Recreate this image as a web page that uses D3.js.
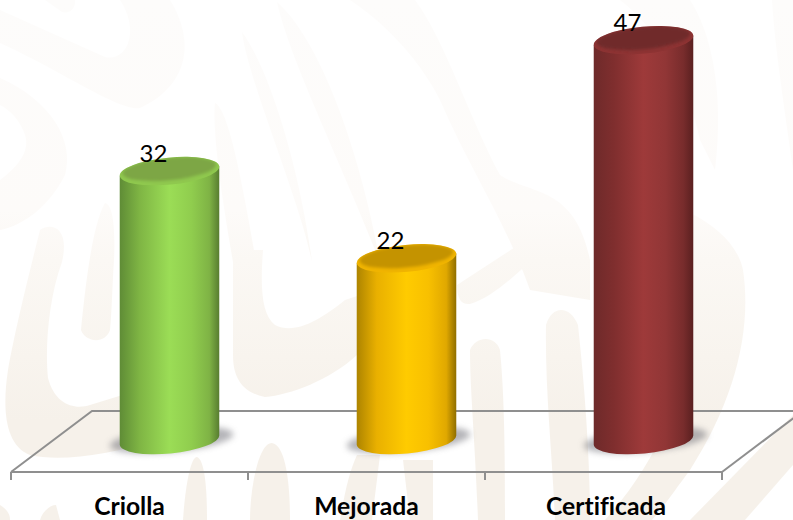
<!DOCTYPE html>
<html><head><meta charset="utf-8">
<script src="https://cdnjs.cloudflare.com/ajax/libs/d3/7.8.5/d3.min.js"></script>
<style>html,body{margin:0;padding:0;background:#fff;overflow:hidden}svg{display:block}</style>
</head><body><svg id="c" width="793" height="520"></svg>
<script>
const categories = ["Criolla", "Mejorada", "Certificada"];
const values = [32, 22, 47];
const bodyStops = [
  ["#5f8c36", "#7fb544", "#9bdd56", "#90cd4e", "#7fb345", "#587d30"],
  ["#ad8400", "#e9b000", "#ffcb00", "#f8c000", "#e0a800", "#8f6e00"],
  ["#6e2a2a", "#7f2e2e", "#9e3a3a", "#913636", "#782c2c", "#5a2020"]
];
const gradientOffsets = [0, 0.2, 0.5, 0.72, 0.9, 1];
const capColors = ["#7da644", "#c49300", "#702929"];
const rimColors = ["#8fc84e", "#f0b400", "#8d3333"];

const W = 793, H = 520;
const svg = d3.select("#c");
const defs = svg.append("defs");

// Layout constants
const frontY = 472, backY = 411, depthX = 81, floorLeft = 11, floorRight = 722;
const cylOffset = 40, rx = 50, ry = 13.5, tilt = 5.5, baseY = 440;
const ax = rx * Math.cos(tilt * Math.PI / 180), ay = rx * Math.sin(tilt * Math.PI / 180);
const labelShift = [0, 0, 2.5];

const x = d3.scaleBand().domain(categories).range([floorLeft, floorRight]);
const y = d3.scaleLinear().domain([0, 50]).range([450.3, 14]);

// Watermark
const wg = defs.append("linearGradient").attr("id", "wm").attr("gradientUnits", "userSpaceOnUse")
  .attr("x1", 0).attr("y1", 0).attr("x2", 0).attr("y2", 420);
[[0, "#fdfcfb"], [0.5, "#fdfbf9"], [0.62, "#fbf8f4"], [0.85, "#f8f4ee"], [1, "#f6f1ea"]].forEach(s =>
  wg.append("stop").attr("offset", s[0]).attr("stop-color", s[1]));
const wmFilled = [
  "M0,10 L105,57 C128,62 140,30 120,0 L170,0 C195,40 190,85 140,108 C120,112 60,70 0,43 Z",
  "M0,78 C50,100 75,140 65,175 C50,205 25,225 0,230 L0,180 C20,165 30,150 25,135 C20,120 10,110 0,105 Z",
  "M60,0 L75,0 C76,8 70,14 62,12 L45,0 Z",
  "M215,103 C228,110 240,170 256,262 L233,262 C222,200 212,130 215,103 Z",
  "M242,32 C270,70 300,170 312,262 C300,200 248,80 242,32 Z",
  "M277,2 C320,40 360,150 380,262 C340,160 290,60 277,2 Z",
  "M350,0 L415,0 C445,40 470,120 500,175 C530,195 575,185 590,260 L590,300 L530,290 C505,220 470,170 440,100 C425,70 395,30 350,0 Z",
  "M510,0 L690,0 C710,30 725,90 715,170 L700,140 C690,90 660,30 620,0 Z",
  "M105,203 C115,205 115,240 114,260 C112,290 112,310 110,330 C105,345 85,342 81,330 C85,290 92,225 105,203 Z",
  "M40,230 C52,222 70,228 62,262 C48,300 45,350 48,378 C55,405 75,410 90,405 L155,385 L155,440 C110,455 60,462 30,455 C5,445 2,410 8,370 C15,330 30,270 40,230 Z",
  "M233,250 L263,250 C260,290 262,315 275,325 C295,335 320,320 345,300 L357,296 L357,355 C330,380 290,395 265,397 C240,392 233,375 233,355 Z",
  "M183,520 C185,490 190,457 197,457 C205,460 207,490 207,520 Z",
  "M250,520 C250,490 258,443 272,443 C285,445 290,480 290,520 Z",
  "M40,520 C42,512 50,505 56,505 L60,520 Z",
  "M0,505 C8,510 10,515 10,520 L0,520 Z",
  "M340,520 C345,490 350,470 357,455 L380,455 L372,520 Z",
  "M403,460 L433,460 L433,520 L410,520 Z",
  "M470,350 C476,336 495,335 500,350 C505,400 505,470 505,520 L478,520 C475,440 470,390 470,350 Z",
  "M546,325 C552,305 570,305 578,325 C585,390 590,460 590,520 L555,520 C552,450 545,390 546,325 Z",
  "M690,213 C715,225 738,245 743,270 C752,330 735,400 690,470 C675,490 665,505 652,520 L605,520 C650,470 690,400 693,300 Z",
  "M793,415 L793,465 L745,520 L690,520 Z",
  "M457,285 L526,240 L560,225 L530,262 C510,280 490,298 470,304 C462,305 457,300 457,285 Z",
  "M772,0 L793,0 L793,170 C785,110 775,50 772,0 Z"
];
svg.append("g").selectAll("path").data(wmFilled).join("path")
  .attr("d", d => d).attr("fill", "url(#wm)");

// Filters
defs.append("filter").attr("id", "blur").attr("x", "-30%").attr("y", "-60%").attr("width", "160%").attr("height", "220%")
  .append("feGaussianBlur").attr("stdDeviation", 3);
defs.append("filter").attr("id", "soft").attr("x", "-20%").attr("y", "-50%").attr("width", "140%").attr("height", "200%")
  .append("feGaussianBlur").attr("stdDeviation", 1.8);

// Floor
const lineColor = "#8f8f8f";
const floor = svg.append("g").attr("fill", "none").attr("stroke", lineColor).attr("stroke-width", 2);
floor.append("path").attr("d", d3.line()([[floorLeft, frontY], [floorLeft + depthX, backY], [W + 2, backY]]));
floor.append("path").attr("d", d3.line()([[floorRight, frontY], [floorRight + 81, frontY - 61]]));

// Category axis, built on the band scale
const axisG = svg.append("g").attr("transform", `translate(0,${frontY})`)
  .call(d3.axisBottom(x).tickSize(0).tickPadding(25));
axisG.select(".domain").attr("stroke", lineColor).attr("stroke-width", 2)
  .attr("d", `M${floorLeft},0H${floorRight}`);
axisG.selectAll("text")
  .attr("font-family", "Lato, sans-serif").attr("font-weight", 700).attr("font-size", 24.7)
  .style("font-variant-ligatures", "none")
  .attr("dx", (c, i) => labelShift[i])
  .attr("fill", "#000");
const boundaries = categories.map(c => x(c)).concat(floorRight);
axisG.selectAll("line.b").data(boundaries).join("line").attr("class", "b")
  .attr("x1", d => d).attr("x2", d => d).attr("y1", 0).attr("y2", 8)
  .attr("stroke", lineColor).attr("stroke-width", 2);

// Gradients for the cylinders
categories.forEach((c, i) => {
  const g = defs.append("linearGradient").attr("id", "body" + i);
  gradientOffsets.forEach((o, k) =>
    g.append("stop").attr("offset", o).attr("stop-color", bodyStops[i][k]));
  defs.append("clipPath").attr("id", "cap" + i)
    .append("ellipse").attr("rx", rx).attr("ry", ry);
});

const cx = c => x(c) + x.bandwidth() / 2 + cylOffset;

// Shadows
svg.append("g").selectAll("ellipse").data(categories).join("ellipse")
  .attr("cx", c => cx(c) + 2).attr("cy", baseY).attr("rx", 62).attr("ry", 12)
  .attr("transform", c => `rotate(${-tilt} ${cx(c) + 2} ${baseY})`)
  .attr("fill", "#6a6a72").attr("opacity", 0.5).attr("filter", "url(#blur)");

// Cylinders
const bars = svg.append("g").selectAll("g").data(categories).join("g");
bars.append("path")
  .attr("d", (c, i) => {
    const X = cx(c), T = y(values[i]);
    return `M${X - ax},${T + ay}L${X - ax},${baseY + ay}A${rx},${ry} ${-tilt} 0 0 ${X + ax},${baseY - ay}L${X + ax},${T - ay}Z`;
  })
  .attr("fill", (c, i) => `url(#body${i})`);
const caps = bars.append("g")
  .attr("transform", (c, i) => `translate(${cx(c)},${y(values[i])}) rotate(${-tilt})`);
caps.append("ellipse").attr("rx", rx).attr("ry", ry).attr("fill", (c, i) => rimColors[i]);
caps.append("g").attr("clip-path", (c, i) => `url(#cap${i})`)
  .append("ellipse").attr("cy", -2).attr("rx", rx - 3).attr("ry", ry - 2.5)
  .attr("fill", (c, i) => capColors[i]).attr("filter", "url(#soft)");

// Value labels
svg.append("g").selectAll("text").data(categories).join("text")
  .attr("x", c => cx(c) - 16).attr("y", (c, i) => y(values[i]) - 9.5)
  .attr("text-anchor", "middle").attr("font-family", "Lato, sans-serif").attr("font-size", 24)
  .attr("fill", "#000").text((c, i) => values[i]);
</script></body></html>
